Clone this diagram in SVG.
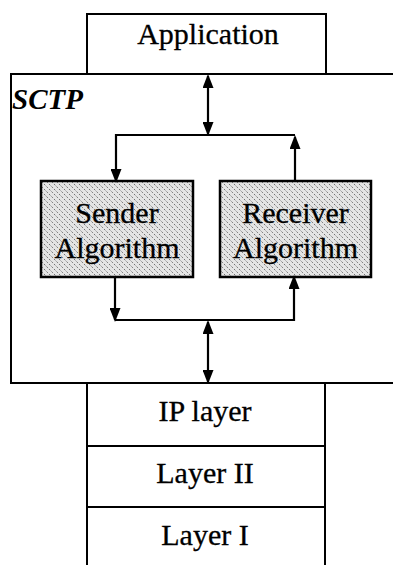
<svg xmlns="http://www.w3.org/2000/svg" width="393" height="565" viewBox="0 0 393 565">
<style>
.box{fill:#fff;stroke:#000;stroke-width:2}
.alg{fill:url(#hatch);stroke:#000;stroke-width:2.5}
.t{font-family:"Liberation Serif","Times New Roman",serif;font-size:30px;fill:#000;stroke:#000;stroke-width:0.3;text-anchor:middle}
.lbl{font-family:"Liberation Serif","Times New Roman",serif;font-size:29px;font-weight:bold;font-style:italic;fill:#000}
.c{fill:none;stroke:#000;stroke-width:2.2}
</style>
<defs>
<pattern id="hatch" patternUnits="userSpaceOnUse" width="5" height="5">
<rect width="5" height="5" fill="#e4e4e4"/>
<path d="M-1,-1 L6,6 M-1,4 L1,6 M4,-1 L6,1" stroke="#555" stroke-width="0.8" stroke-dasharray="2,1.5"/>
</pattern>
<marker id="ah" markerUnits="userSpaceOnUse" markerWidth="14" markerHeight="11" refX="12" refY="5.5" orient="auto-start-reverse" viewBox="0 0 14 11">
<path d="M0,0 L14,5.5 L0,11 z" fill="#000"/>
</marker>
</defs>
<g id="sctp">
<rect class="box" x="11" y="74" width="400" height="309"/>
<text class="lbl" x="12" y="109">SCTP</text>
</g>
<g id="application">
<rect class="box" x="87" y="14" width="239" height="60"/>
<text class="t" x="208" y="44">Application</text>
</g>
<g id="sender">
<rect class="alg" x="41" y="181" width="152" height="96"/>
<text class="t" x="117" y="223">Sender</text>
<text class="t" x="117" y="258">Algorithm</text>
</g>
<g id="receiver">
<rect class="alg" x="220" y="181" width="151" height="96"/>
<text class="t" x="295.5" y="223">Receiver</text>
<text class="t" x="295.5" y="258">Algorithm</text>
</g>
<g id="ip">
<rect class="box" x="87" y="383" width="238" height="63"/>
<text class="t" x="205" y="421">IP layer</text>
</g>
<g id="layer2">
<rect class="box" x="87" y="446" width="238" height="61"/>
<text class="t" x="205" y="483">Layer II</text>
</g>
<g id="layer1">
<rect class="box" x="87" y="507" width="238" height="70"/>
<text class="t" x="205" y="545">Layer I</text>
</g>
<g id="connectors">
<path class="c" d="M208,76 V134" marker-start="url(#ah)" marker-end="url(#ah)"/>
<path class="c" d="M295,135 H116 V181" marker-end="url(#ah)"/>
<path class="c" d="M295,181 V137" marker-end="url(#ah)"/>
<path class="c" d="M115,277 V320" marker-end="url(#ah)"/>
<path class="c" d="M115,320 H294 V277" marker-end="url(#ah)"/>
<path class="c" d="M208,322 V382" marker-start="url(#ah)" marker-end="url(#ah)"/>
</g>
</svg>
